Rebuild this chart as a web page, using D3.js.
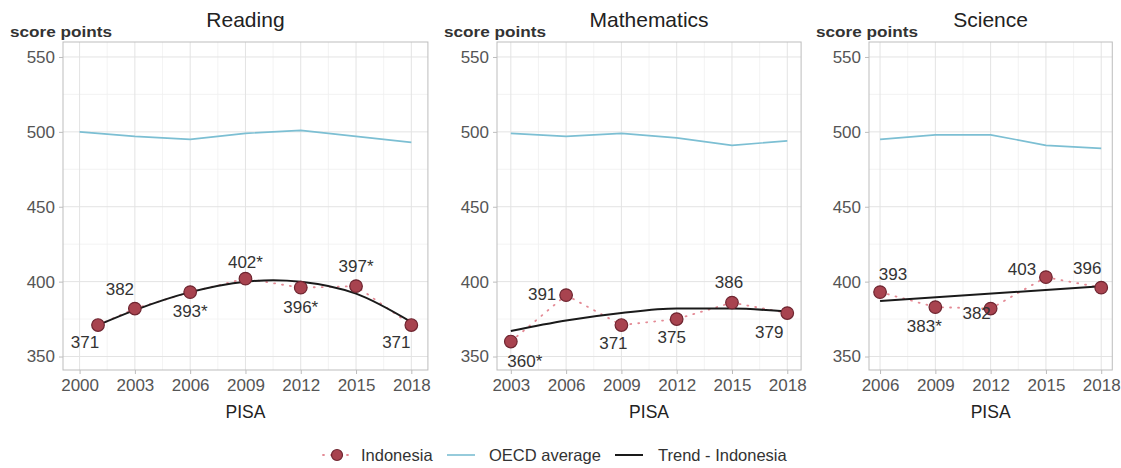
<!DOCTYPE html>
<html lang="en">
<head>
  <meta charset="UTF-8" />
  <title>PISA trends - Indonesia</title>
  <style>
    body { margin: 0; background: #fff; font-family: "Liberation Sans", Arial, sans-serif; }
    .grid-major { stroke: #e3e3e3; stroke-width: 1; }
    .grid-minor { stroke: #f0f0f0; stroke-width: 0.8; }
    .tick-label { fill: #555; font-size: 17px; }
  </style>
</head>
<body>
  <div id="chart"></div>
  <script src="https://d3js.org/d3.v7.min.js"></script>
  <script>
    // ---- data ----
    var subjects = ["Reading", "Mathematics", "Science"];

    var readingYears = [2001, 2003, 2006, 2009, 2012, 2015, 2018];
    var readingIdn   = [371, 382, 393, 402, 396, 397, 371];
    var readingLbl   = ["371", "382", "393*", "402*", "396*", "397*", "371"];
    var readingOecdYears = [2000, 2003, 2006, 2009, 2012, 2015, 2018];
    var readingOecd  = [500, 497, 495, 499, 501, 497, 493];
    var readingTrendYears = [2001, 2003, 2006, 2009, 2010.5, 2012, 2015, 2018];
    var readingTrend = [371, 381, 393, 400, 401, 400, 392, 373];
    var readingTicks = [2000, 2003, 2006, 2009, 2012, 2015, 2018];

    var mathYears = [2003, 2006, 2009, 2012, 2015, 2018];
    var mathIdn   = [360, 391, 371, 375, 386, 379];
    var mathLbl   = ["360*", "391", "371", "375", "386", "379"];
    var mathOecd  = [499, 497, 499, 496, 491, 494];
    var mathTrendYears = [2003, 2006, 2009, 2012, 2015, 2018];
    var mathTrend = [367, 374, 379, 382, 382, 380];
    var mathTicks = [2003, 2006, 2009, 2012, 2015, 2018];

    var sciYears = [2006, 2009, 2012, 2015, 2018];
    var sciIdn   = [393, 383, 382, 403, 396];
    var sciLbl   = ["393", "383*", "382", "403", "396"];
    var sciOecd  = [495, 498, 498, 491, 489];
    var sciTrendYears = [2006, 2018];
    var sciTrend = [387, 397];
    var sciTicks = [2006, 2009, 2012, 2015, 2018];

    var yTicks = [350, 400, 450, 500, 550];
    var yMinor = [375, 425, 475, 525];

    // label offsets (dx, dy) for each point, in pixels
    var readingOff = [[-13, 23], [-15, -14], [0, 25], [0, -11], [0, 25], [0, -14], [-15, 23]];
    var mathOff    = [[14, 25], [-24, 5], [-8, 24], [-5, 24], [-3, -15], [-18, 25]];
    var sciOff     = [[13, -12], [-11, 25], [-14, 10], [-24, -2], [-14, -14]];

    var panels = [
      { title: subjects[0], years: readingYears, idn: readingIdn, lbl: readingLbl, off: readingOff,
        oecdYears: readingOecdYears, oecd: readingOecd, trendYears: readingTrendYears, trend: readingTrend,
        ticks: readingTicks, left: 63 },
      { title: subjects[1], years: mathYears, idn: mathIdn, lbl: mathLbl, off: mathOff,
        oecdYears: mathYears, oecd: mathOecd, trendYears: mathTrendYears, trend: mathTrend,
        ticks: mathTicks, left: 497 },
      { title: subjects[2], years: sciYears, idn: sciIdn, lbl: sciLbl, off: sciOff,
        oecdYears: sciYears, oecd: sciOecd, trendYears: sciTrendYears, trend: sciTrend,
        ticks: sciTicks, left: 869 }
    ];

    var W = 1121, H = 468;
    var plotTop = 42, plotBottom = 370;
    var pxPerYear = 18.43;

    var svg = d3.select("#chart").append("svg")
      .attr("width", W).attr("height", H);

    var y = d3.scaleLinear().domain([341, 560]).range([plotBottom, plotTop]);

    var idnColor = "#a8434f", idnStroke = "#6e2530", dotColor = "#e48a95";
    var oecdColor = "#7cbfd3";

    panels.forEach(function(p) {
      var t0 = d3.min(p.ticks), t1 = d3.max(p.ticks);
      var span = t1 - t0, pad = span * 0.05;
      var width = (span + 2 * pad) * pxPerYear;
      var x = d3.scaleLinear().domain([t0 - pad, t1 + pad]).range([p.left, p.left + width]);

      var g = svg.append("g");

      // gridlines
      var xMinor = p.ticks.slice(1).map(function(t) { return t - 1.5; });
      g.selectAll(".gxm").data(xMinor).enter().append("line").attr("class", "grid-minor")
        .attr("x1", x).attr("x2", x).attr("y1", plotTop).attr("y2", plotBottom);
      g.selectAll(".gym").data(yMinor).enter().append("line").attr("class", "grid-minor")
        .attr("x1", p.left).attr("x2", p.left + width).attr("y1", y).attr("y2", y);
      g.selectAll(".gx").data(p.ticks).enter().append("line").attr("class", "grid-major")
        .attr("x1", x).attr("x2", x).attr("y1", plotTop).attr("y2", plotBottom);
      g.selectAll(".gy").data(yTicks).enter().append("line").attr("class", "grid-major")
        .attr("x1", p.left).attr("x2", p.left + width).attr("y1", y).attr("y2", y);

      // panel border
      g.append("rect").attr("x", p.left).attr("y", plotTop).attr("width", width).attr("height", plotBottom - plotTop)
        .attr("fill", "none").attr("stroke", "#bdbdbd").attr("stroke-width", 1);

      // axes
      var ya = g.append("g").attr("transform", "translate(" + p.left + ",0)")
        .call(d3.axisLeft(y).tickValues(yTicks).tickSize(4).tickPadding(4));
      var xa = g.append("g").attr("transform", "translate(0," + plotBottom + ")")
        .call(d3.axisBottom(x).tickValues(p.ticks).tickFormat(d3.format("d")).tickSize(4).tickPadding(5));
      [ya, xa].forEach(function(a) {
        a.select(".domain").remove();
        a.selectAll("line").attr("stroke", "#bdbdbd");
        a.selectAll("text").attr("class", "tick-label").attr("font-family", null).attr("font-size", null);
      });

      // titles
      svg.append("text").attr("x", p.left + width / 2).attr("y", 27)
        .attr("text-anchor", "middle").attr("font-size", 21).attr("fill", "#222").text(p.title);
      svg.append("text").attr("x", p.left - 53).attr("y", 37)
        .attr("font-size", 15).attr("font-weight", "bold").attr("fill", "#333")
        .attr("textLength", 102).attr("lengthAdjust", "spacingAndGlyphs").text("score points");
      svg.append("text").attr("x", p.left + width / 2).attr("y", 418)
        .attr("text-anchor", "middle").attr("font-size", 17.5).attr("fill", "#222").text("PISA");

      // OECD average
      var oecdPts = p.oecdYears.map(function(yr, i) { return [yr, p.oecd[i]]; });
      g.append("path").datum(oecdPts)
        .attr("d", d3.line().x(function(d) { return x(d[0]); }).y(function(d) { return y(d[1]); }))
        .attr("fill", "none").attr("stroke", oecdColor).attr("stroke-width", 1.6);

      // Indonesia dotted line
      var idnPts = p.years.map(function(yr, i) { return [yr, p.idn[i], p.lbl[i], p.off[i]]; });
      g.append("path").datum(idnPts)
        .attr("d", d3.line().x(function(d) { return x(d[0]); }).y(function(d) { return y(d[1]); }))
        .attr("fill", "none").attr("stroke", dotColor).attr("stroke-width", 1.8)
        .attr("stroke-dasharray", "1,7").attr("stroke-linecap", "round");

      // trend
      var trPts = p.trendYears.map(function(yr, i) { return [yr, p.trend[i]]; });
      g.append("path").datum(trPts)
        .attr("d", d3.line().curve(d3.curveMonotoneX).x(function(d) { return x(d[0]); }).y(function(d) { return y(d[1]); }))
        .attr("fill", "none").attr("stroke", "#1a1a1a").attr("stroke-width", 2);

      // points
      g.selectAll(".pt").data(idnPts).enter().append("circle")
        .attr("cx", function(d) { return x(d[0]); }).attr("cy", function(d) { return y(d[1]); })
        .attr("r", 6.3).attr("fill", idnColor).attr("stroke", idnStroke).attr("stroke-width", 1.2);

      // labels
      g.selectAll(".lbl").data(idnPts).enter().append("text")
        .attr("x", function(d) { return x(d[0]) + d[3][0]; })
        .attr("y", function(d) { return y(d[1]) + d[3][1]; })
        .attr("text-anchor", "middle").attr("font-size", 17).attr("fill", "#333")
        .text(function(d) { return d[2]; });
    });

    // legend
    var lg = svg.append("g").attr("transform", "translate(0,455)");
    lg.append("line").attr("x1", 323).attr("x2", 351).attr("y1", 0).attr("y2", 0)
      .attr("stroke", dotColor).attr("stroke-width", 1.8).attr("stroke-dasharray", "1,7").attr("stroke-linecap", "round");
    lg.append("circle").attr("cx", 337).attr("cy", 0).attr("r", 5.5)
      .attr("fill", idnColor).attr("stroke", idnStroke).attr("stroke-width", 1.2);
    lg.append("text").attr("x", 361).attr("y", 6).attr("font-size", 16.5).attr("fill", "#333").text("Indonesia");
    lg.append("line").attr("x1", 447).attr("x2", 475).attr("y1", 0).attr("y2", 0)
      .attr("stroke", oecdColor).attr("stroke-width", 1.6);
    lg.append("text").attr("x", 489).attr("y", 6).attr("font-size", 16.5).attr("fill", "#333").text("OECD average");
    lg.append("line").attr("x1", 615).attr("x2", 643).attr("y1", 0).attr("y2", 0)
      .attr("stroke", "#1a1a1a").attr("stroke-width", 2);
    lg.append("text").attr("x", 658).attr("y", 6).attr("font-size", 16.5).attr("fill", "#333").text("Trend - Indonesia");
  </script>
</body>
</html>
